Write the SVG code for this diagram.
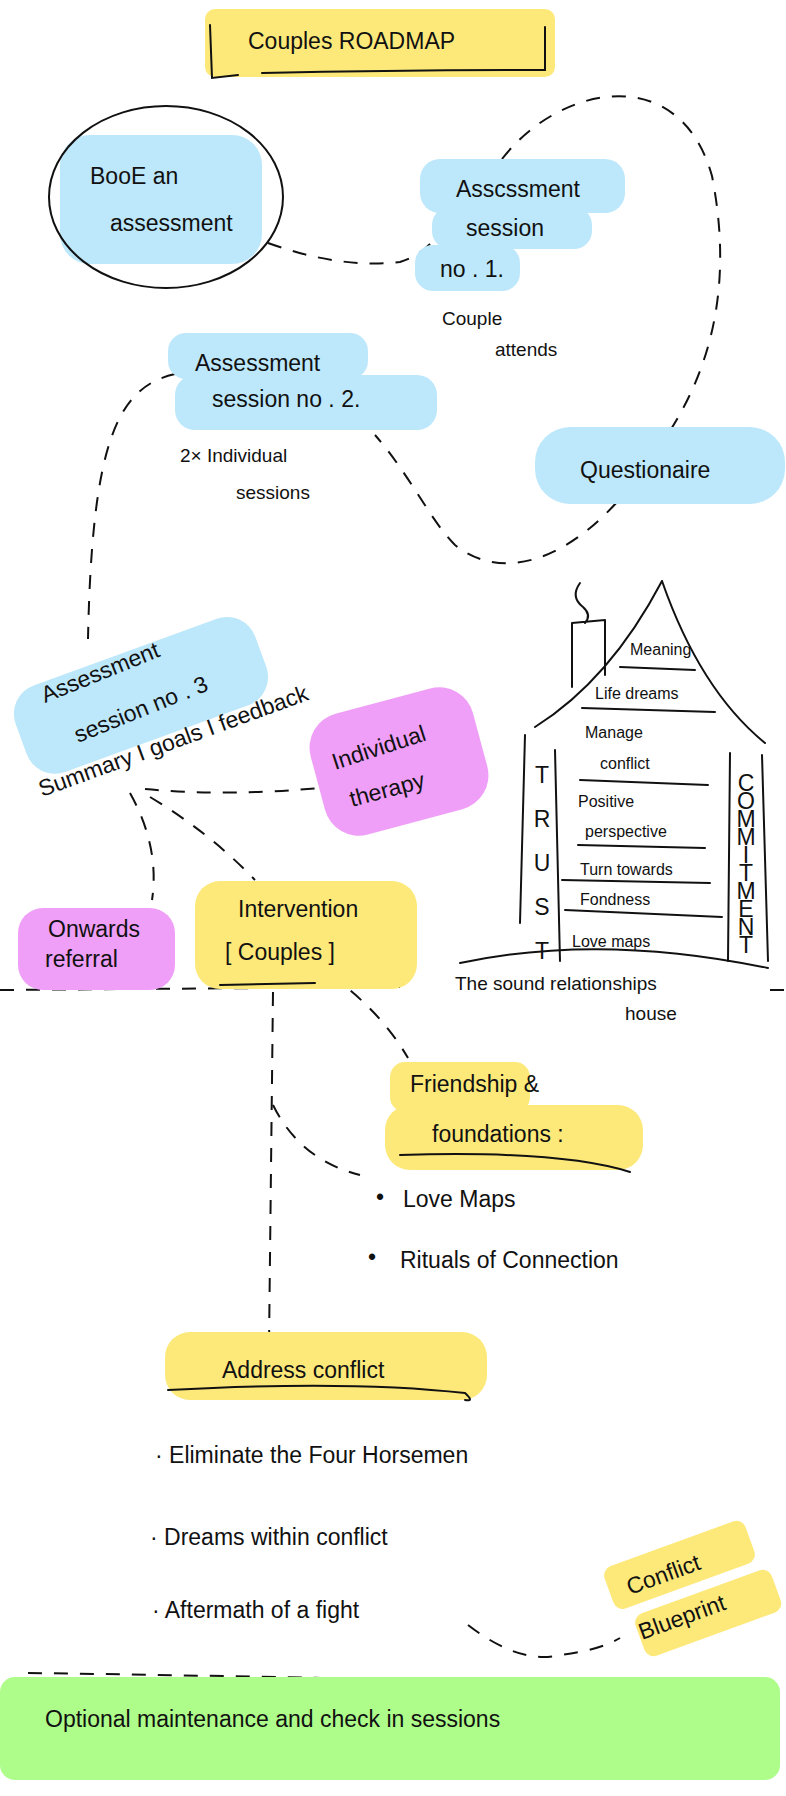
<svg xmlns="http://www.w3.org/2000/svg" width="786" height="1796" viewBox="0 0 786 1796">
<style>
text{font-family:"Liberation Sans",Arial,sans-serif;fill:#111;font-size:23px}
.s{font-size:19px}
.h{font-size:16px}
.v{writing-mode:vertical-rl;text-orientation:upright}
.l{fill:none;stroke:#111;stroke-width:2;stroke-linecap:round}
.d{fill:none;stroke:#111;stroke-width:2;stroke-dasharray:14 12}
.b{fill:#bde8fb}.y{fill:#fde97a}.p{fill:#ef9ff7}.g{fill:#aefc8a}
</style>
<rect width="786" height="1796" fill="#fff"/>
<g id="connectors">
<path class="d" d="M268,243 Q340,269 400,262 Q430,253 445,222"/>
<path class="d" d="M502,159 C560,84 680,61 712,176 C730,268 722,367 650,459 C590,551 510,589 455,545 C430,520 410,475 375,435"/>
<path class="d" d="M175,374 C118,387 92,440 88,639"/>
<path class="d" d="M145,789 Q230,797 330,787"/>
<path class="d" d="M130,793 Q160,847 152,900"/>
<path class="d" d="M150,797 Q210,833 255,880"/>
<path class="d" d="M0,990 L400,987"/>
<path class="d" d="M770,990 L786,990"/>
<path class="d" d="M273,992 L269,1345"/>
<path class="d" d="M273,1105 Q300,1160 360,1175"/>
<path class="d" d="M330,975 Q380,1010 408,1058"/>
<path class="d" d="M468,1625 Q520,1665 560,1655 Q600,1650 620,1638"/>
<path class="d" d="M28,1673 Q400,1678 775,1690"/>
</g>
<g id="title">
<rect class="y" x="205" y="9" width="350" height="68" rx="10"/>
<path class="l" d="M210,25 L212,78 L238,75 M262,73 Q400,70 545,70 L545,27"/>
<text x="248" y="49" font-size="26">Couples  ROADMAP</text>
</g>
<g id="book">
<rect class="b" x="60" y="135" width="202" height="129" rx="30"/>
<ellipse class="l" cx="166" cy="197" rx="117" ry="91"/>
<text x="90" y="184">BooE  an</text>
<text x="110" y="231">assessment</text>
</g>
<g id="session1">
<rect class="b" x="420" y="159" width="205" height="54" rx="20"/>
<rect class="b" x="432" y="207" width="160" height="42" rx="18"/>
<rect class="b" x="415" y="245" width="105" height="46" rx="18"/>
<text x="456" y="197">Asscssment</text>
<text x="466" y="236">session</text>
<text x="440" y="277">no . 1.</text>
<text class="s" x="442" y="325">Couple</text>
<text class="s" x="495" y="356">attends</text>
</g>
<g id="session2">
<rect class="b" x="168" y="333" width="200" height="46" rx="18"/>
<rect class="b" x="175" y="375" width="262" height="55" rx="20"/>
<text x="195" y="371">Assessment</text>
<text x="212" y="407">session  no . 2.</text>
<text class="s" x="180" y="462">2× Individual</text>
<text class="s" x="236" y="499">sessions</text>
</g>
<g id="questionaire">
<rect class="b" x="535" y="427" width="250" height="77" rx="35"/>
<text x="580" y="478">Questionaire</text>
</g>
<g id="session3">
<g transform="rotate(-20 140 700)"><rect class="b" x="15" y="650" width="255" height="92" rx="30"/></g>
<g transform="rotate(-22 45 703)"><text x="45" y="703">Assessment</text></g>
<g transform="rotate(-22 78 743)"><text x="78" y="743">session  no . 3</text></g>
<g transform="rotate(-20 42 797)"><text x="42" y="797" font-size="21">Summary  I  goals  I  feedback</text></g>
</g>
<g id="individual">
<g transform="rotate(-15 395 762)"><rect class="p" x="315" y="700" width="168" height="125" rx="35"/></g>
<g transform="rotate(-18 335 770)"><text x="335" y="770">Individual</text></g>
<g transform="rotate(-15 352 807)"><text x="352" y="807">therapy</text></g>
</g>
<g id="onwards">
<rect class="p" x="18" y="908" width="157" height="82" rx="25"/>
<text x="48" y="937">Onwards</text>
<text x="45" y="967">referral</text>
</g>
<g id="intervention">
<rect class="y" x="195" y="881" width="222" height="108" rx="25"/>
<text x="238" y="917">Intervention</text>
<text x="225" y="960">[ Couples ]</text>
<path class="l" d="M220,985 L315,983"/>
</g>
<g id="house">
<path class="l" d="M662,581 Q610,680 535,727 M662,581 Q700,690 765,743"/>
<path class="l" d="M580,583 Q570,597 583,607 Q592,615 585,623 M572,623 L605,620 M572,623 L572,687 M605,620 L605,675"/>
<path class="l" d="M525,735 L520,923 M555,750 L560,961 M730,753 L728,961 M762,755 L768,961"/>
<path class="l" d="M620,667 L695,670 M582,708 L715,712 M580,780 L708,785 M578,845 L705,848 M562,880 L710,883 M565,910 L722,917"/>
<path class="l" d="M460,963 Q600,933 768,968"/>
<text class="h" x="630" y="655">Meaning</text>
<text class="h" x="595" y="699">Life dreams</text>
<text class="h" x="585" y="738">Manage</text>
<text class="h" x="600" y="769">conflict</text>
<text class="h" x="578" y="807">Positive</text>
<text class="h" x="585" y="837">perspective</text>
<text class="h" x="580" y="875">Turn towards</text>
<text class="h" x="580" y="905">Fondness</text>
<text class="h" x="572" y="947">Love maps</text>
<text class="v" x="542" y="762" font-size="18" letter-spacing="18">TRUST</text>
<text class="v" x="746" y="770" font-size="14" letter-spacing="-8">COMMITMENT</text>
<text class="s" x="455" y="990">The sound relationships</text>
<text class="s" x="625" y="1020">house</text>
</g>
<g id="friendship">
<rect class="y" x="390" y="1062" width="140" height="50" rx="15"/>
<rect class="y" x="385" y="1105" width="258" height="65" rx="25"/>
<text x="410" y="1092">Friendship &amp;</text>
<text x="432" y="1142">foundations :</text>
<path class="l" d="M400,1155 Q560,1150 630,1172"/>
<text x="376" y="1205">•</text><text x="403" y="1207">Love Maps</text>
<text x="368" y="1265">•</text><text x="400" y="1268">Rituals of Connection</text>
</g>
<g id="address">
<rect class="y" x="165" y="1332" width="322" height="68" rx="25"/>
<text x="222" y="1378">Address  conflict</text>
<path class="l" d="M168,1390 Q350,1380 465,1393 Q475,1402 465,1400"/>
<text x="155" y="1463">·  Eliminate  the  Four  Horsemen</text>
<text x="150" y="1545">·  Dreams  within  conflict</text>
<text x="152" y="1618">·  Aftermath  of  a  fight</text>
</g>
<g id="blueprint">
<g transform="rotate(-20 690 1585)"><rect class="y" x="612" y="1540" width="150" height="45" rx="10"/><rect class="y" x="625" y="1595" width="145" height="45" rx="10"/></g>
<g transform="rotate(-20 630 1595)"><text x="630" y="1595" font-size="22">Conflict</text></g>
<g transform="rotate(-20 642 1640)"><text x="642" y="1640" font-size="22">Blueprint</text></g>
</g>
<g id="optional">
<rect class="g" x="0" y="1677" width="780" height="103" rx="15"/>
<text x="45" y="1727" font-size="27">Optional  maintenance  and  check  in  sessions</text>
</g>
</svg>
